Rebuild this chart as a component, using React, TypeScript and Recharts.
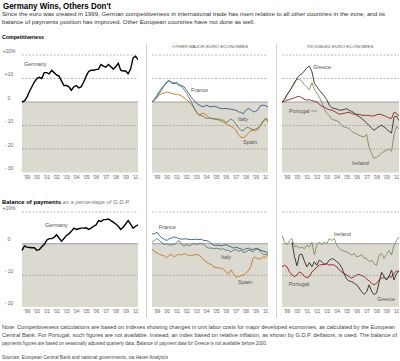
import { LineChart, Line, XAxis, YAxis, ReferenceArea, ReferenceLine } from "recharts";

const quarters = [
  1999, 1999.25, 1999.5, 1999.75, 2000, 2000.25, 2000.5, 2000.75,
  2001, 2001.25, 2001.5, 2001.75, 2002, 2002.25, 2002.5, 2002.75,
  2003, 2003.25, 2003.5, 2003.75, 2004, 2004.25, 2004.5, 2004.75,
  2005, 2005.25, 2005.5, 2005.75, 2006, 2006.25, 2006.5, 2006.75,
  2007, 2007.25, 2007.5, 2007.75, 2008, 2008.25, 2008.5, 2008.75,
  2009, 2009.25, 2009.5, 2009.75, 2010, 2010.25, 2010.5, 2010.75,
];
const yearTicks = [1999.5, 2000.5, 2001.5, 2002.5, 2003.5, 2004.5, 2005.5, 2006.5, 2007.5, 2008.5, 2009.5, 2010.5];
const compTicks = [-30, -20, -10, 0, 10, 20];
const bopTicks = [-20, -10, 0, 10];

// competitiveness, % change since 1999
const compGermany = [0, 0.5, 2, 4.5, 6.5, 8.5, 10, 10.5, 10, 12.5, 12.5, 12, 13.5, 12.5, 11.5, 11, 9, 7, 7, 6.5, 5, 6.5, 7, 6, 6.5, 8.5, 11, 13, 13.5, 13.5, 13.8, 14, 16, 15.3, 14.8, 16, 15, 14, 15, 16.5, 13.5, 13.2, 13.2, 12, 14, 18.8, 19.5, 18];
const compFrance = [0, 1.2, 2.8, 4.5, 6, 7.2, 8.6, 9.2, 8, 7.8, 8.4, 7.4, 7, 6.4, 5, 3.5, 1.8, 0.7, -0.5, -1.2, -1.8, -2, -1.4, -1.8, -2.1, -1.8, -2, -2.5, -2.8, -2.8, -2.8, -2.9, -3.1, -3.3, -3.5, -4.2, -4.4, -5, -3.5, -2.8, -3.3, -4.2, -4, -3.2, -1.5, -1.4, -1.5, -2.1];
const compItaly = [0, 0.8, 2, 3.8, 5.3, 7, 8.3, 9, 8.4, 8.1, 7.8, 7, 6.6, 5.2, 3.8, 1.8, 0, -2.5, -4.5, -5.5, -5.8, -6.2, -7, -6.8, -7, -7.2, -7.4, -7.2, -7.6, -7.8, -8.8, -8, -7.2, -8, -9.4, -11, -12, -12.3, -11, -10.8, -11.4, -11.8, -11.5, -11, -9.9, -8, -6.8, -8.5];
const compSpain = [0, 0.8, 2, 3, 3.6, 3.8, 4.3, 4, 3.6, 3.4, 3.3, 3, 2.6, 1.8, 1, 0, -1, -2.6, -4, -5.5, -5, -4.8, -5.6, -6.5, -7, -7.1, -7.2, -7.7, -8.2, -8.6, -9.2, -9.8, -10.4, -11, -12, -14, -15, -15.2, -14.5, -13.2, -12.3, -12, -12.3, -11.5, -10, -8.5, -7.5, -7.5];
const compGreece = [0, 1.2, 3.2, 4.6, 6.2, 8, 10, 11.4, 12, 13.2, 14.6, 15.2, 13, 8, 6.5, 5, 3.8, 2.5, 1, -1.4, -2.4, -2.8, -3, -3.5, -3.4, -3.2, -2.8, -3.6, -4, -4.6, -5.7, -6.2, -7, -7.9, -8.9, -10, -11.2, -12, -11.2, -10.4, -9.9, -10.6, -11.5, -12.5, -13.2, -6.4, -6, -8];
const compIreland = [0, 1, 2.8, 4.5, 6.4, 8.6, 9.6, 9.7, 8.8, 7.5, 6.2, 5.2, 8.2, 5.5, 3.8, 2.1, -0.2, -3, -4.8, -5.9, -7.3, -7.7, -8, -8.6, -10, -10.6, -10.9, -11.4, -12.4, -13.2, -13.5, -14.2, -14.6, -14.9, -13.8, -19.5, -22, -24, -23.5, -22.7, -21.8, -21, -20.5, -20, -21, -14, -10.4, -11.5];
const compPortugal = [0, 0.3, 0.8, 1, 1.4, 1.8, 2.2, 2.4, 1.8, 1.2, 0.8, 1, 0.6, 0.3, 0, -1, -1.8, -2.2, -2.8, -3.3, -3.5, -4, -4.6, -5.2, -5, -4.8, -4.5, -4.4, -4.9, -5.2, -5.2, -5.3, -5.6, -5.7, -5.7, -5.7, -6, -5.9, -5.4, -5.2, -5.4, -5.8, -6.2, -6.8, -7, -4.4, -4.8, -6];

// balance of payments, % of G.D.P.
const bopGermany = [-2.1, -0.7, -1.1, -1.2, -1.3, -1.3, -2.1, -1.9, -1, -0.3, 1.1, 1.6, 1.6, 2, 2.8, 1.8, 0.8, 1.6, 2.6, 3.1, 3.9, 4.9, 4.5, 4.7, 4.9, 4.9, 5, 4.5, 4.9, 5.5, 5.9, 7.3, 7, 7.6, 7.6, 7.8, 7.3, 6.8, 6.2, 5.5, 4.5, 5.2, 6.2, 7.3, 6.2, 4.9, 5.5, 5.9];
const bopFrance = [3.1, 3.1, 3.6, 2.6, 1.8, 1.4, 1, 1.6, 1.8, 2.1, 1.9, 1.6, 1.4, 1.5, 1.5, 1.3, 1.3, 1.3, 1.4, 1.3, 1.4, 1, 1, 0.7, 0, -0.5, -0.5, -0.5, -0.7, -0.5, -0.3, -0.7, -1, -1.4, -1.1, -1.4, -1.6, -2.1, -1.6, -1.4, -1.8, -1.8, -1.6, -1.9, -2.1, -2.3, -2.6, -2.8];
const bopItaly = [0.5, 1, 1.6, 1, 0.3, -0.3, 0, -0.5, -0.3, -0.3, 0.3, 1, -0.3, -0.7, -0.3, -0.7, -0.3, 0, -0.3, 0, 0, -0.3, -1, -1.4, -1.4, -1.6, -1.4, -1.6, -1.8, -1.6, -2.1, -2.1, -2.6, -2.1, -1.8, -2.4, -2.1, -2.8, -2.6, -2.1, -2.1, -2.6, -1.6, -1.4, -2.6, -3.4, -3.4, -3.4];
const bopSpain = [-1.6, -2.6, -2.9, -3.4, -3.6, -3.9, -4.5, -3.6, -3.4, -4.2, -3.6, -3.4, -3.6, -3.1, -3.4, -3.9, -3.6, -3.6, -3.4, -3.6, -4.2, -5.2, -5.7, -6.3, -6.6, -7.3, -7.6, -7.6, -7.8, -8, -8.9, -9.6, -8.3, -9.4, -10.7, -10.4, -10.1, -9.9, -9.4, -8.6, -7.3, -4.5, -4.2, -4.9, -4.7, -4.2, -4.4, -3.1];
const bopIreland = [2.6, 0.5, -0.3, 1, 1.6, -1, -0.8, -1.4, -1.1, -1.6, -0.5, -1.1, 0.5, -3.6, -0.5, 0.5, -0.3, 0.5, 0, 1.6, 1, 1.6, -0.5, -1.4, -2.1, -2.4, -2.6, -3.1, -3.6, -3.1, -4.2, -3.9, -3.5, -4.5, -4.7, -5.7, -5.2, -6.3, -6.8, -3.6, -3.1, -4.7, -3.4, -2.1, -3.6, -0.5, 1, 2.1];
const bopGreece = [null, null, null, null, 0.5, -4, -7, -3.5, -3.3, -5.5, -7.3, -6, -7.3, -5.7, -6.8, -5.2, -5.7, -6.5, -6.3, -5.2, -4.7, -5, -5.7, -6.3, -7.6, -9.6, -11.2, -11.8, -12, -12.5, -13, -14, -15.2, -16, -15.2, -13, -15, -16.1, -15.6, -12.2, -9, -10.4, -11.5, -10.4, -8.3, -11.5, -9.4, -8.6];
const bopPortugal = [-7.3, -6.8, -7.3, -8.9, -9.9, -10.4, -9.9, -8.9, -9.4, -10.4, -10.7, -10.4, -8.9, -8.3, -7.3, -6.8, -6.6, -6.6, -6.3, -6.8, -6.6, -6.8, -7.3, -8.3, -8.9, -9.4, -9.9, -10.4, -10.9, -10.4, -9.9, -9.7, -10.1, -10.4, -11.1, -11.8, -12.5, -13, -12.5, -11.5, -10.9, -10.7, -11.1, -10.4, -10.6, -9.4, -8.6, -8.9];

const compRows = quarters.map((t, i) => ({
  t,
  germany: compGermany[i],
  france: compFrance[i],
  italy: compItaly[i],
  spain: compSpain[i],
  greece: compGreece[i],
  ireland: compIreland[i],
  portugal: compPortugal[i],
}));
const bopRows = quarters.map((t, i) => ({
  t,
  germany: bopGermany[i],
  france: bopFrance[i],
  italy: bopItaly[i],
  spain: bopSpain[i],
  greece: bopGreece[i],
  ireland: bopIreland[i],
  portugal: bopPortugal[i],
}));

const FONT = '"Liberation Sans", Arial, Helvetica, sans-serif';
const FILL = "#dcd9d1";
const GRID = "#999999";
const colors: Record<string, string> = {
  germany: "#000000",
  france: "#2b5b8c",
  italy: "#5c7b68",
  spain: "#c27a1c",
  greece: "#2e2e2e",
  ireland: "#7c8d5c",
  portugal: "#981c1c",
};

const yearLabel = (v: number) => "\u2019" + String(Math.floor(v)).slice(2);
const compLabel = (v: number) => (v === 20 ? "+20%" : v > 0 ? "+" + v : v === 0 ? "0" : "- " + Math.abs(v));
const bopLabel = (v: number) => (v === 10 ? "+10%" : v === 0 ? "0" : "- " + Math.abs(v));

function Panel({
  rows,
  series,
  left,
  top,
  width,
  plotH,
  ticks,
  withAxis,
  fmt,
}: {
  rows: any[];
  series: string[];
  left: number;
  top: number;
  width: number;
  plotH: number;
  ticks: number[];
  withAxis: boolean;
  fmt: (v: number) => string;
}) {
  const mt = 8;
  const lo = ticks[0];
  const hi = ticks[ticks.length - 1];
  return (
    <div style={{ position: "absolute", left, top: top - mt }}>
      <LineChart width={width} height={plotH + mt + 12} data={rows} margin={{ top: mt, right: 0, bottom: 0, left: 0 }}>
        <XAxis
          dataKey="t"
          type="number"
          domain={[1999, 2010.75]}
          ticks={yearTicks}
          interval={0}
          tickFormatter={yearLabel}
          axisLine={false}
          tickLine={false}
          tickSize={0}
          tickMargin={2.5}
          height={12}
          tick={{ fontSize: 5, fill: "#666" }}
        />
        <YAxis
          type="number"
          domain={[lo, hi]}
          ticks={ticks}
          interval={0}
          hide={!withAxis}
          width={withAxis ? 22 : 0}
          axisLine={false}
          tickLine={false}
          tick={(p: any) => (
            <text x={9} y={p.y - 2.4} textAnchor="middle" fontSize={5} fill="#666">
              {fmt(p.payload.value)}
            </text>
          )}
        />
        <ReferenceArea y1={lo} y2={0} fill={FILL} fillOpacity={1} stroke="none" />
        {ticks
          .filter((g) => g !== 0 && g !== lo)
          .map((g) => (
            <ReferenceLine key={g} y={g} stroke={GRID} strokeWidth={0.7} strokeDasharray="2 1.5" />
          ))}
        <ReferenceLine y={0} stroke="#8f8f8f" strokeWidth={0.8} />
        {series.map((s) => (
          <Line
            key={s}
            dataKey={s}
            type="linear"
            stroke={colors[s]}
            strokeWidth={s === "germany" ? 1.4 : 0.9}
            dot={false}
            isAnimationActive={false}
          />
        ))}
      </LineChart>
    </div>
  );
}

const lbl = { fontSize: 5.5, fill: "#555" };
const note = { fontSize: 5.4, fill: "#444", lengthAdjust: "spacingAndGlyphs" as const };
const sub = { fontSize: 5.9, fill: "#333", lengthAdjust: "spacingAndGlyphs" as const };

export default function App() {
  const topY = 55;
  const topH = 117.5;
  const botY = 211.7;
  const botH = 95;
  return (
    <div style={{ position: "absolute", left: 0, top: 0, width: 400, height: 361, background: "#fff", fontFamily: FONT, overflow: "hidden" }}>
      <Panel rows={compRows} series={["germany"]} left={0} top={topY} width={138} plotH={topH} ticks={compTicks} withAxis fmt={compLabel} />
      <Panel rows={compRows} series={["spain", "italy", "france"]} left={152} top={topY} width={116} plotH={topH} ticks={compTicks} withAxis={false} fmt={compLabel} />
      <Panel rows={compRows} series={["ireland", "portugal", "greece"]} left={282} top={topY} width={117} plotH={topH} ticks={compTicks} withAxis={false} fmt={compLabel} />
      <Panel rows={bopRows} series={["germany"]} left={0} top={botY} width={138} plotH={botH} ticks={bopTicks} withAxis fmt={bopLabel} />
      <Panel rows={bopRows} series={["spain", "italy", "france"]} left={152} top={botY} width={116} plotH={botH} ticks={bopTicks} withAxis={false} fmt={bopLabel} />
      <Panel rows={bopRows} series={["ireland", "portugal", "greece"]} left={282} top={botY} width={117} plotH={botH} ticks={bopTicks} withAxis={false} fmt={bopLabel} />

      <svg width={400} height={361} style={{ position: "absolute", left: 0, top: 0, pointerEvents: "none" }} fontFamily={FONT}>
        <text x={3} y={8.8} fontSize={8.6} fontWeight="bold" fill="#000" textLength={108} lengthAdjust="spacingAndGlyphs">
          Germany Wins, Others Don't
        </text>
        <text x={2} y={16} textLength={383} {...sub}>
          Since the euro was created in 1999, German competitiveness in international trade has risen relative to all other countries in the zone, and its
        </text>
        <text x={2} y={24} textLength={253} {...sub}>
          balance of payments position has improved. Other European countries have not done as well.
        </text>
        <text x={2} y={39} fontSize={5.6} fontWeight="bold" fill="#000" textLength={42} lengthAdjust="spacingAndGlyphs">
          Competitiveness
        </text>
        <text x={210} y={48.3} fontSize={4.3} fill="#555" textAnchor="middle" textLength={76} lengthAdjust="spacingAndGlyphs">
          OTHER MAJOR EURO ECONOMIES
        </text>
        <text x={340} y={48.3} fontSize={4.3} fill="#555" textAnchor="middle" textLength={67} lengthAdjust="spacingAndGlyphs">
          TROUBLED EURO ECONOMIES
        </text>
        <text x={2} y={204} fontSize={5.7} fill="#000" textLength={128} lengthAdjust="spacingAndGlyphs">
          <tspan fontWeight="bold">Balance of payments</tspan>
          <tspan fontStyle="italic" fill="#777"> as a percentage of G.D.P.</tspan>
        </text>

        <line x1={146.5} x2={146.5} y1={44} y2={318} stroke="#c4c4c4" strokeWidth={0.8} />
        <line x1={276.5} x2={276.5} y1={44} y2={318} stroke="#c4c4c4" strokeWidth={0.8} />

        <text x={24} y={66} {...lbl}>Germany</text>
        <text x={191} y={92} {...lbl}>France</text>
        <text x={238} y={121} {...lbl}>Italy</text>
        <text x={243} y={143.5} {...lbl}>Spain</text>
        <text x={313} y={69} {...lbl}>Greece</text>
        <text x={289} y={113} {...lbl}>Portugal</text>
        <line x1={311} x2={317} y1={111} y2={111} stroke="#555" strokeWidth={0.5} />
        <text x={352} y={164.5} {...lbl}>Ireland</text>

        <text x={45} y={226.5} {...lbl}>Germany</text>
        <text x={158.7} y={229} {...lbl}>France</text>
        <text x={221} y={258.5} {...lbl}>Italy</text>
        <text x={238} y={284} {...lbl}>Spain</text>
        <text x={334} y={236} {...lbl}>Ireland</text>
        <text x={288.7} y={286} {...lbl}>Portugal</text>
        <text x={377} y={301} {...lbl}>Greece</text>

        <text x={2} y={329} textLength={393} {...note}>
          Note: Competitiveness calculations are based on indexes showing changes in unit labor costs for major developed economies, as calculated by the European
        </text>
        <text x={2} y={337} textLength={395} {...note}>
          Central Bank.  For Portugal, such figures are not available. Instead, an index based on relative inflation, as shown by G.D.P. deflators, is used. The balance of
        </text>
        <text x={2} y={345} textLength={265} {...note}>
          payments figures are based on seasonally adjusted quarterly data. Balance of payment data for Greece is not available before 2000.
        </text>
        <text x={2} y={359} textLength={166} {...note}>
          Sources: European Central Bank and national governments, via Haver Analytics
        </text>
      </svg>
    </div>
  );
}
